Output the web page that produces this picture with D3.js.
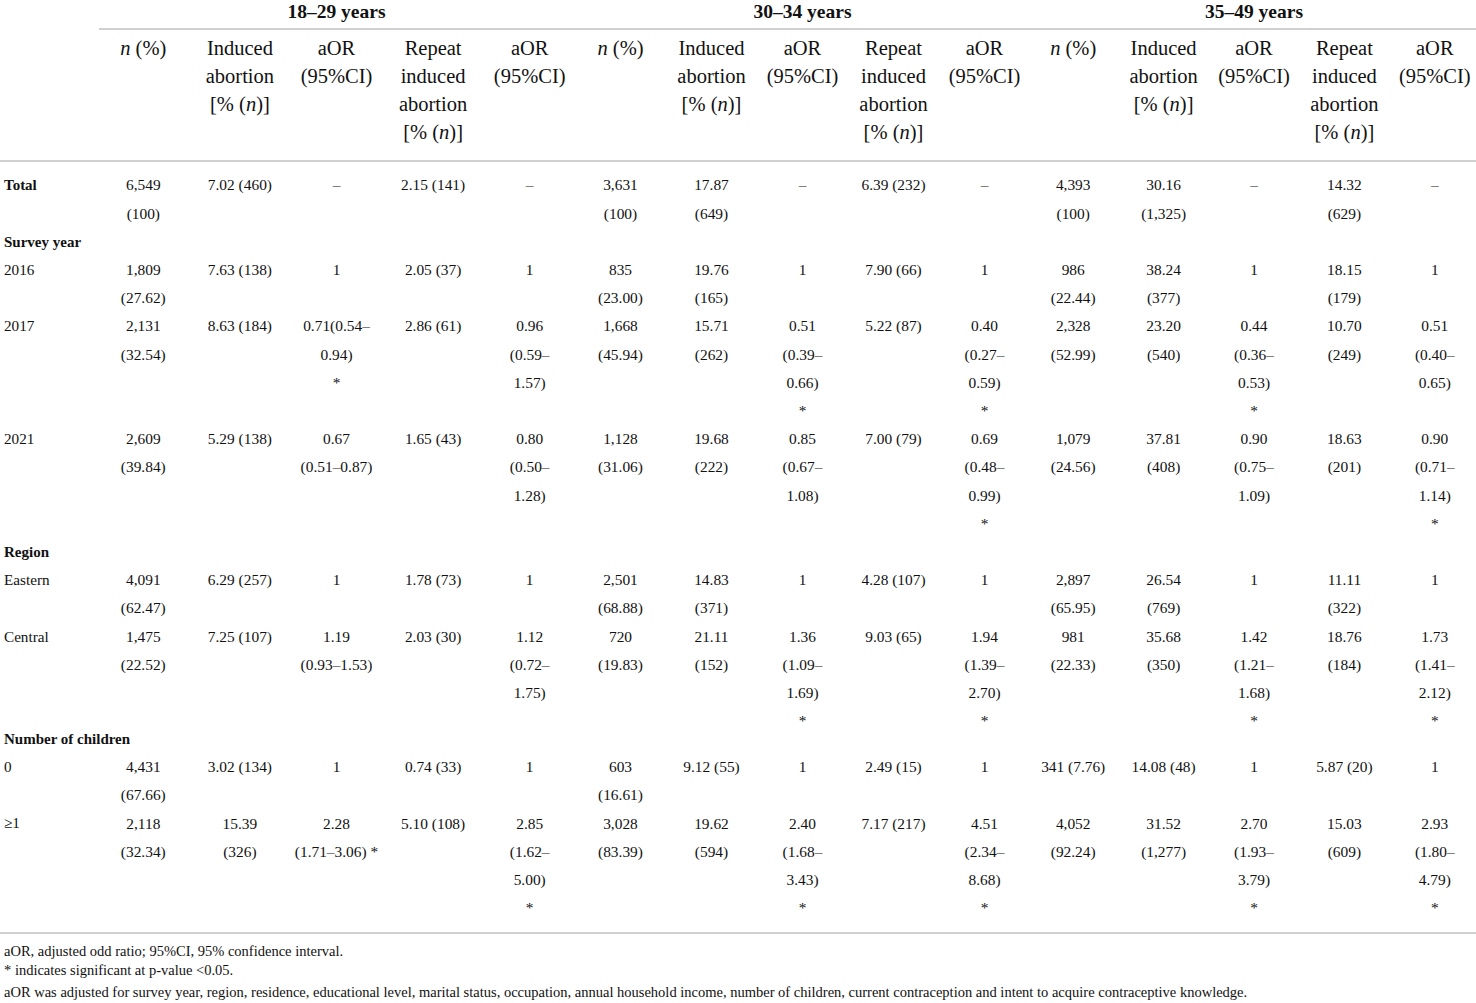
<!DOCTYPE html>
<html>

<head>
    <meta charset="utf-8">
    <title>Induced abortion by age group</title>
    <script src="https://d3js.org/d3.v7.min.js"></script>
    <style>
        body {
            margin: 0;
            background: #fff;
        }

        text {
            font-family: "Liberation Serif", "Times New Roman", serif;
            fill: #111;
        }

        .group {
            font-size: 19.5px;
            font-weight: bold;
        }

        .head {
            font-size: 20.5px;
        }

        .cell {
            font-size: 15.4px;
        }

        .label {
            font-size: 15.2px;
        }

        .section {
            font-size: 15px;
            font-weight: bold;
        }

        .note {
            font-size: 14.5px;
        }

        .rule {
            stroke: #d0d0d0;
            stroke-width: 2;
        }
    </style>
</head>

<body>
    <svg width="1476" height="1003"></svg>
    <script>
        // Table content
        var groups = ["18–29 years", "30–34 years", "35–49 years"];

        // header lines, "*n*" marks italic n
        var colHeaders = [
            ["*n* (%)"],
            ["Induced", "abortion", "[% (*n*)]"],
            ["aOR", "(95%CI)"],
            ["Repeat", "induced", "abortion", "[% (*n*)]"],
            ["aOR", "(95%CI)"]
        ];

        var rowLabels = ["Total", "Survey year", "2016", "2017", "2021", "Region",
            "Eastern", "Central", "Number of children", "0", "≥1"];
        var sectionRows = ["Survey year", "Region", "Number of children"];

        // rows with values (same order as rowLabels, sections skipped)
        var dataRows = ["Total", "2016", "2017", "2021", "Eastern", "Central", "0", "≥1"];

        var cells1829 = [
            ["6,549\n(100)", "7.02 (460)", "–", "2.15 (141)", "–"],
            ["1,809\n(27.62)", "7.63 (138)", "1", "2.05 (37)", "1"],
            ["2,131\n(32.54)", "8.63 (184)", "0.71(0.54–\n0.94)\n*", "2.86 (61)", "0.96\n(0.59–\n1.57)"],
            ["2,609\n(39.84)", "5.29 (138)", "0.67\n(0.51–0.87)", "1.65 (43)", "0.80\n(0.50–\n1.28)"],
            ["4,091\n(62.47)", "6.29 (257)", "1", "1.78 (73)", "1"],
            ["1,475\n(22.52)", "7.25 (107)", "1.19\n(0.93–1.53)", "2.03 (30)", "1.12\n(0.72–\n1.75)"],
            ["4,431\n(67.66)", "3.02 (134)", "1", "0.74 (33)", "1"],
            ["2,118\n(32.34)", "15.39\n(326)", "2.28\n(1.71–3.06) *", "5.10 (108)", "2.85\n(1.62–\n5.00)\n*"]
        ];

        var cells3034 = [
            ["3,631\n(100)", "17.87\n(649)", "–", "6.39 (232)", "–"],
            ["835\n(23.00)", "19.76\n(165)", "1", "7.90 (66)", "1"],
            ["1,668\n(45.94)", "15.71\n(262)", "0.51\n(0.39–\n0.66)\n*", "5.22 (87)", "0.40\n(0.27–\n0.59)\n*"],
            ["1,128\n(31.06)", "19.68\n(222)", "0.85\n(0.67–\n1.08)", "7.00 (79)", "0.69\n(0.48–\n0.99)\n*"],
            ["2,501\n(68.88)", "14.83\n(371)", "1", "4.28 (107)", "1"],
            ["720\n(19.83)", "21.11\n(152)", "1.36\n(1.09–\n1.69)\n*", "9.03 (65)", "1.94\n(1.39–\n2.70)\n*"],
            ["603\n(16.61)", "9.12 (55)", "1", "2.49 (15)", "1"],
            ["3,028\n(83.39)", "19.62\n(594)", "2.40\n(1.68–\n3.43)\n*", "7.17 (217)", "4.51\n(2.34–\n8.68)\n*"]
        ];

        var cells3549 = [
            ["4,393\n(100)", "30.16\n(1,325)", "–", "14.32\n(629)", "–"],
            ["986\n(22.44)", "38.24\n(377)", "1", "18.15\n(179)", "1"],
            ["2,328\n(52.99)", "23.20\n(540)", "0.44\n(0.36–\n0.53)\n*", "10.70\n(249)", "0.51\n(0.40–\n0.65)"],
            ["1,079\n(24.56)", "37.81\n(408)", "0.90\n(0.75–\n1.09)", "18.63\n(201)", "0.90\n(0.71–\n1.14)\n*"],
            ["2,897\n(65.95)", "26.54\n(769)", "1", "11.11\n(322)", "1"],
            ["981\n(22.33)", "35.68\n(350)", "1.42\n(1.21–\n1.68)\n*", "18.76\n(184)", "1.73\n(1.41–\n2.12)\n*"],
            ["341 (7.76)", "14.08 (48)", "1", "5.87 (20)", "1"],
            ["4,052\n(92.24)", "31.52\n(1,277)", "2.70\n(1.93–\n3.79)\n*", "15.03\n(609)", "2.93\n(1.80–\n4.79)\n*"]
        ];

        var footnotes = [
            "aOR, adjusted odd ratio; 95%CI, 95% confidence interval.",
            "* indicates significant at p-value <0.05.",
            "aOR was adjusted for survey year, region, residence, educational level, marital status, occupation, annual household income, number of children, current contraception and intent to acquire contraceptive knowledge."
        ];

        var groupCells = [cells1829, cells3034, cells3549];

        var width = 1476;
        var height = 1003;
        var svg = d3.select("svg")
            .attr("width", width)
            .attr("height", height);

        // one band scale per age group
        var groupRanges = [[95, 578], [575, 1030], [1028, 1480]];
        var colIdx = d3.range(colHeaders.length);
        var xScales = groupRanges.map(function (r) {
            return d3.scaleBand().domain(colIdx).range(r);
        });
        function colX(g, c) { return xScales[g](c) + xScales[g].bandwidth() / 2; }

        // vertical line scale for body rows
        var lineY = d3.scaleLinear().domain([0, 1]).range([185, 213.2]);
        var headY = d3.scaleLinear().domain([0, 1]).range([48, 76]);

        // work out which line every row starts on
        var rowStart = {};
        var pos = 0;
        rowLabels.forEach(function (lab) {
            if (lab === "Number of children") pos -= 0.37;
            rowStart[lab] = pos;
            var k = dataRows.indexOf(lab);
            var n = 1;
            if (k >= 0) {
                groupCells.forEach(function (gc) {
                    gc[k].forEach(function (s) { n = Math.max(n, s.split("\n").length); });
                });
            }
            pos += n;
        });

        // group headers
        svg.selectAll(".group")
            .data(groups)
            .enter().append("text")
            .attr("class", "group")
            .attr("x", function (d, i) { return (groupRanges[i][0] + groupRanges[i][1]) / 2; })
            .attr("y", 11)
            .attr("dy", "0.35em")
            .attr("text-anchor", "middle")
            .text(function (d) { return d; });

        // rules
        svg.append("line").attr("class", "rule").attr("x1", 99).attr("x2", width).attr("y1", 29).attr("y2", 29);
        svg.append("line").attr("class", "rule").attr("x1", 0).attr("x2", width).attr("y1", 161).attr("y2", 161);
        svg.append("line").attr("class", "rule").attr("x1", 0).attr("x2", width).attr("y1", 933).attr("y2", 933);

        // write a string with *n* italic parts into a text element
        function richText(sel, s) {
            s.split("*").forEach(function (part, i) {
                if (part === "") return;
                sel.append("tspan")
                    .style("font-style", i % 2 ? "italic" : null)
                    .text(part);
            });
        }

        // column headers
        groups.forEach(function (g, gi) {
            colHeaders.forEach(function (lines, ci) {
                lines.forEach(function (line, li) {
                    var t = svg.append("text")
                        .attr("class", "head")
                        .attr("x", colX(gi, ci))
                        .attr("y", headY(li))
                        .attr("dy", "0.35em")
                        .attr("text-anchor", "middle");
                    richText(t, line);
                });
            });
        });

        // row labels
        svg.selectAll(".rowlab")
            .data(rowLabels)
            .enter().append("text")
            .attr("class", function (d) { return sectionRows.indexOf(d) >= 0 || d === "Total" ? "section" : "label"; })
            .attr("x", 4)
            .attr("y", function (d) { return lineY(rowStart[d]); })
            .attr("dy", "0.35em")
            .text(function (d) { return d; });

        // body cells
        groupCells.forEach(function (gc, gi) {
            gc.forEach(function (row, ri) {
                var start = rowStart[dataRows[ri]];
                row.forEach(function (cell, ci) {
                    cell.split("\n").forEach(function (line, li) {
                        svg.append("text")
                            .attr("class", "cell")
                            .attr("x", colX(gi, ci))
                            .attr("y", lineY(start + li))
                            .attr("dy", "0.35em")
                            .attr("text-anchor", "middle")
                            .text(line);
                    });
                });
            });
        });

        // footnotes
        var noteY = [951, 970, 992];
        svg.selectAll(".note")
            .data(footnotes)
            .enter().append("text")
            .attr("class", "note")
            .attr("x", 4)
            .attr("y", function (d, i) { return noteY[i]; })
            .attr("dy", "0.35em")
            .text(function (d) { return d; });
    </script>
</body>

</html>
